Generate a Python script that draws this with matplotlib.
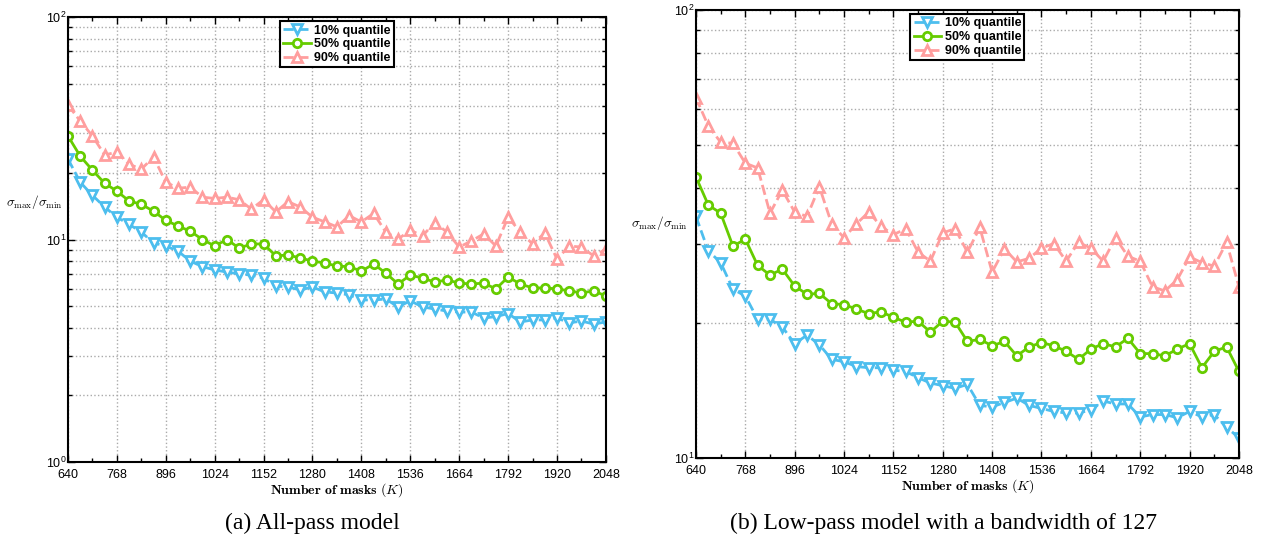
import numpy as np
import matplotlib.pyplot as plt
from matplotlib.ticker import MultipleLocator, LogLocator, NullFormatter

# data
masks = list(range(640, 2049, 32))

# (a) all-pass model
ap_q10 = [23.0, 18.1, 15.8, 14.0, 12.6, 11.7, 10.8, 9.65, 9.35, 8.87,
          8.0, 7.55, 7.3, 7.14, 7.0, 6.92, 6.71, 6.18, 6.12, 5.93,
          6.12, 5.81, 5.75, 5.64, 5.35, 5.35, 5.4, 4.98, 5.3, 4.98,
          4.87, 4.77, 4.72, 4.72, 4.44, 4.5, 4.65, 4.26, 4.35, 4.35,
          4.44, 4.22, 4.3, 4.17, 4.26]
ap_q50 = [29.2, 23.7, 20.5, 17.9, 16.5, 14.9, 14.4, 13.4, 12.2, 11.5,
          10.9, 10.0, 9.35, 10.0, 9.15, 9.55, 9.55, 8.44, 8.52, 8.26,
          8.0, 7.84, 7.6, 7.55, 7.21, 7.76, 7.06, 6.31, 6.92, 6.71,
          6.44, 6.58, 6.37, 6.31, 6.37, 6.0, 6.78, 6.31, 6.06, 6.06,
          6.0, 5.88, 5.75, 5.88, 5.57]
ap_q90 = [40.2, 34.1, 29.2, 24.0, 24.7, 21.8, 20.7, 23.5, 18.1, 17.0,
          17.2, 15.5, 15.3, 15.5, 15.1, 13.7, 15.1, 13.3, 14.8, 14.0,
          12.6, 12.0, 11.4, 12.8, 12.0, 13.1, 10.8, 10.05, 11.0, 10.4,
          11.9, 10.8, 9.25, 9.85, 10.6, 9.35, 12.6, 10.8, 9.55, 10.7,
          8.17, 9.35, 9.25, 8.44, 9.05]

# (b) low-pass model, bandwidth 127
lp_q10 = [34.6, 29.0, 27.3, 23.8, 23.0, 20.4, 20.4, 19.6, 18.0, 18.8,
          17.9, 16.6, 16.4, 16.0, 15.9, 15.9, 15.7, 15.6, 15.1, 14.7,
          14.5, 14.3, 14.6, 13.1, 13.0, 13.3, 13.6, 13.1, 12.9, 12.7,
          12.6, 12.6, 12.8, 13.4, 13.2, 13.2, 12.35, 12.5, 12.5, 12.3,
          12.7, 12.35, 12.5, 11.7, 11.1]
lp_q50 = [42.4, 36.7, 35.2, 29.7, 30.8, 26.9, 25.6, 26.4, 24.2, 23.2,
          23.3, 22.1, 22.0, 21.5, 21.0, 21.2, 20.6, 20.1, 20.2, 19.1,
          20.2, 20.1, 18.2, 18.4, 17.8, 18.2, 16.9, 17.7, 18.1, 17.8,
          17.3, 16.6, 17.5, 18.0, 17.7, 18.5, 17.1, 17.1, 16.9, 17.5,
          18.0, 15.9, 17.3, 17.7, 15.6]
lp_q90 = [63.7, 55.1, 50.7, 50.4, 45.5, 44.4, 35.2, 39.6, 35.4, 34.6,
          40.3, 33.3, 31.0, 33.3, 35.4, 32.9, 31.5, 32.5, 28.8, 27.5,
          31.8, 32.5, 28.8, 32.7, 26.0, 29.3, 27.4, 27.9, 29.4, 30.1,
          27.5, 30.3, 29.4, 27.5, 31.0, 28.2, 27.5, 24.1, 23.6, 25.0,
          28.1, 27.3, 26.8, 30.3, 24.1]

labels = ['10% quantile', '50% quantile', '90% quantile']
captions = ['(a) All-pass model', '(b) Low-pass model with a bandwidth of 127']

plt.rcParams['mathtext.fontset'] = 'cm'
plt.rcParams['font.family'] = ['Liberation Sans', 'DejaVu Sans']

fig = plt.figure(figsize=(12.61, 5.40), dpi=100)
ax1 = fig.add_axes([0.0539, 0.1444, 0.4266, 0.8241])
ax2 = fig.add_axes([0.5519, 0.1519, 0.4306, 0.8296])

c_blue = '#4DBEEE'
c_green = '#66CC00'
c_pink = '#FF9E9E'

panels = [(ax1, ap_q10, ap_q50, ap_q90, (1, 100), (-0.062, 0.584)),
          (ax2, lp_q10, lp_q50, lp_q90, (10, 100), (-0.068, 0.525))]

for ax, q10, q50, q90, ylim, lab_xy in panels:
    ax.plot(masks, q10, '--', color=c_blue, lw=2, marker='v', ms=6.5,
            mfc='white', mew=2, label=labels[0])
    ax.plot(masks, q50, '-', color=c_green, lw=2, marker='o', ms=6,
            mfc='white', mew=2, label=labels[1])
    ax.plot(masks, q90, '--', color=c_pink, lw=2, marker='^', ms=6.5,
            mfc='white', mew=2, label=labels[2])

    ax.set_yscale('log')
    ax.set_xlim(640, 2048)
    ax.set_ylim(*ylim)
    ax.xaxis.set_major_locator(MultipleLocator(128))
    ax.xaxis.set_minor_locator(MultipleLocator(64))
    ax.yaxis.set_minor_locator(LogLocator(base=10, subs=np.arange(2, 10)))
    ax.yaxis.set_minor_formatter(NullFormatter())
    ax.tick_params(which='both', direction='in', top=True, right=True,
                   labelsize=9)
    ax.tick_params(axis='x', pad=5)
    ax.tick_params(axis='y', pad=1)
    ax.tick_params(which='major', length=5, width=1)
    ax.tick_params(which='minor', length=3, width=1)
    for s in ax.spines.values():
        s.set_linewidth(1.5)
    ax.grid(True, which='major', axis='x', ls=':', color='#aaaaaa', lw=1)
    ax.grid(True, which='both', axis='y', ls=':', color='#aaaaaa', lw=1)

    ax.set_xlabel(r'$\mathbf{Number\ of\ masks\ (}K\mathbf{)}$', fontsize=10, labelpad=0)
    ax.set_ylabel(r'$\sigma_{\max}/\sigma_{\min}$', fontsize=9.5, rotation=0,
                  ha='center', va='center')
    ax.yaxis.set_label_coords(*lab_xy)

    leg = ax.legend(loc='upper center', fancybox=False, framealpha=1,
                    edgecolor='black', handlelength=2.2, handletextpad=0.3,
                    borderpad=0.25, labelspacing=0.15, borderaxespad=0.35,
                    prop={'weight': 'bold', 'size': 9})
    leg.get_frame().set_linewidth(1.5)

fig.text(0.248, 0.031, captions[0], ha='center', va='center',
         family='Liberation Serif', fontsize=17)
fig.text(0.748, 0.031, captions[1], ha='center', va='center',
         family='Liberation Serif', fontsize=17)

fig.savefig('out.png', dpi=100)
